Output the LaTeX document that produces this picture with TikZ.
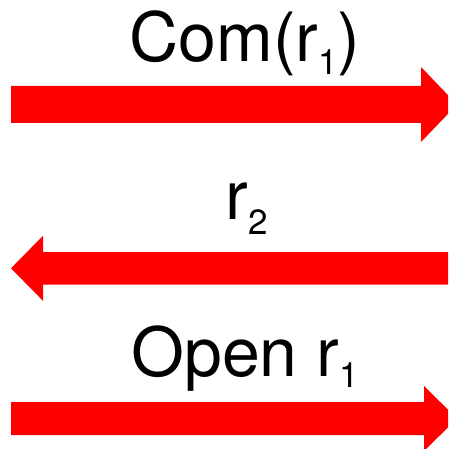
\documentclass[tikz,border=0pt]{standalone}
\usepackage{fontspec}
\setmainfont{TeX Gyre Heros}
\usetikzlibrary{calc}
\definecolor{arrowred}{RGB}{255,0,0}
\newcommand{\lbl}[1]{\fontsize{68}{80}\selectfont #1}
\newcommand{\sbs}[2][-13pt]{\raisebox{#1}{\fontsize{35}{40}\selectfont #2}}
\tikzset{
  blockarrow/.style={fill=arrowred, draw=none},
  label/.style={inner sep=0pt, anchor=base, text=black},
}
% \fatarrow{tail}{tip}{half shaft width}{half head width}{head length}{dir}
\newcommand{\fatarrow}[6]{%
  \fill[blockarrow]
    ($(#1)+(0,-#3)$) -- ($(#2)+(-#6*#5,-#3)$) -- ($(#2)+(-#6*#5,-#4)$)
    -- (#2)
    -- ($(#2)+(-#6*#5,#4)$) -- ($(#2)+(-#6*#5,#3)$) -- ($(#1)+(0,#3)$) -- cycle;}
\begin{document}
\begin{tikzpicture}[x=1pt, y=-1pt]
  \clip (0,0) rectangle (448,449);

  % message 1: commitment, left to right
  \coordinate (a1) at (11,104.5);
  \coordinate (b1) at (457,104.5);
  \fatarrow{a1}{b1}{18.5}{37.5}{36}{1}
  \node[label] (t1) at (245,62) {\lbl{Com(r\sbs{1})}};

  % message 2: reply, right to left
  \coordinate (a2) at (460,268.3);
  \coordinate (b2) at (11,268.3);
  \fatarrow{a2}{b2}{16.2}{32.5}{32}{-1}
  \node[label] (t2) at (247,219) {\lbl{r\sbs[-15pt]{2}}};

  % message 3: opening, left to right
  \coordinate (a3) at (11,418.5);
  \coordinate (b3) at (457,418.5);
  \fatarrow{a3}{b3}{16.5}{32.5}{33}{1}
  \node[label] (t3) at (245,376) {\lbl{Open r\sbs[-11pt]{1}}};
\end{tikzpicture}
\end{document}
